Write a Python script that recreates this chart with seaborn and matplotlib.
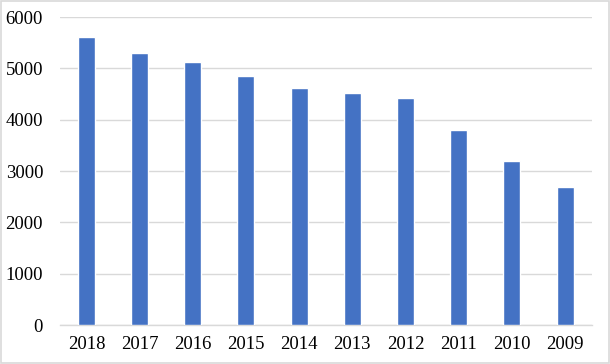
import pandas as pd
import matplotlib.pyplot as plt
import seaborn as sns
from matplotlib.patches import Rectangle

years = ["2018", "2017", "2016", "2015", "2014", "2013", "2012", "2011", "2010", "2009"]
values = [5620, 5310, 5130, 4860, 4620, 4530, 4430, 3810, 3200, 2690]
y_ticks = [0, 1000, 2000, 3000, 4000, 5000, 6000]

df = pd.DataFrame({"year": years, "value": values})

sns.set_style("white")
plt.rcParams["font.family"] = ["Liberation Serif", "DejaVu Serif"]

fig = plt.figure(figsize=(6.1, 3.64), dpi=100)
ax = fig.add_axes([0.098, 0.107, 0.872, 0.846])

sns.barplot(data=df, x="year", y="value", order=years, color="#4472C4",
            saturation=1, width=0.32, ax=ax, zorder=3)

ax.set_ylim(0, 6000)
ax.set_yticks(y_ticks)
ax.set_xlim(-0.5, len(years) - 0.5)
ax.grid(axis="y", color="#d9d9d9", linewidth=1, zorder=0)
ax.set_xlabel("")
ax.set_ylabel("")
for side in ["top", "right", "left"]:
    ax.spines[side].set_visible(False)
ax.spines["bottom"].set_color("#d9d9d9")
ax.spines["bottom"].set_linewidth(1)
ax.tick_params(axis="both", length=0, labelsize=13.5, colors="black")
ax.tick_params(axis="x", pad=8)
ax.tick_params(axis="y", pad=12)

# 外框
fig.patches.append(Rectangle((0.001, 0.002), 0.997, 0.995, transform=fig.transFigure,
                             fill=False, edgecolor="#d9d9d9", linewidth=1.2))

fig.savefig("out.png", dpi=100)
